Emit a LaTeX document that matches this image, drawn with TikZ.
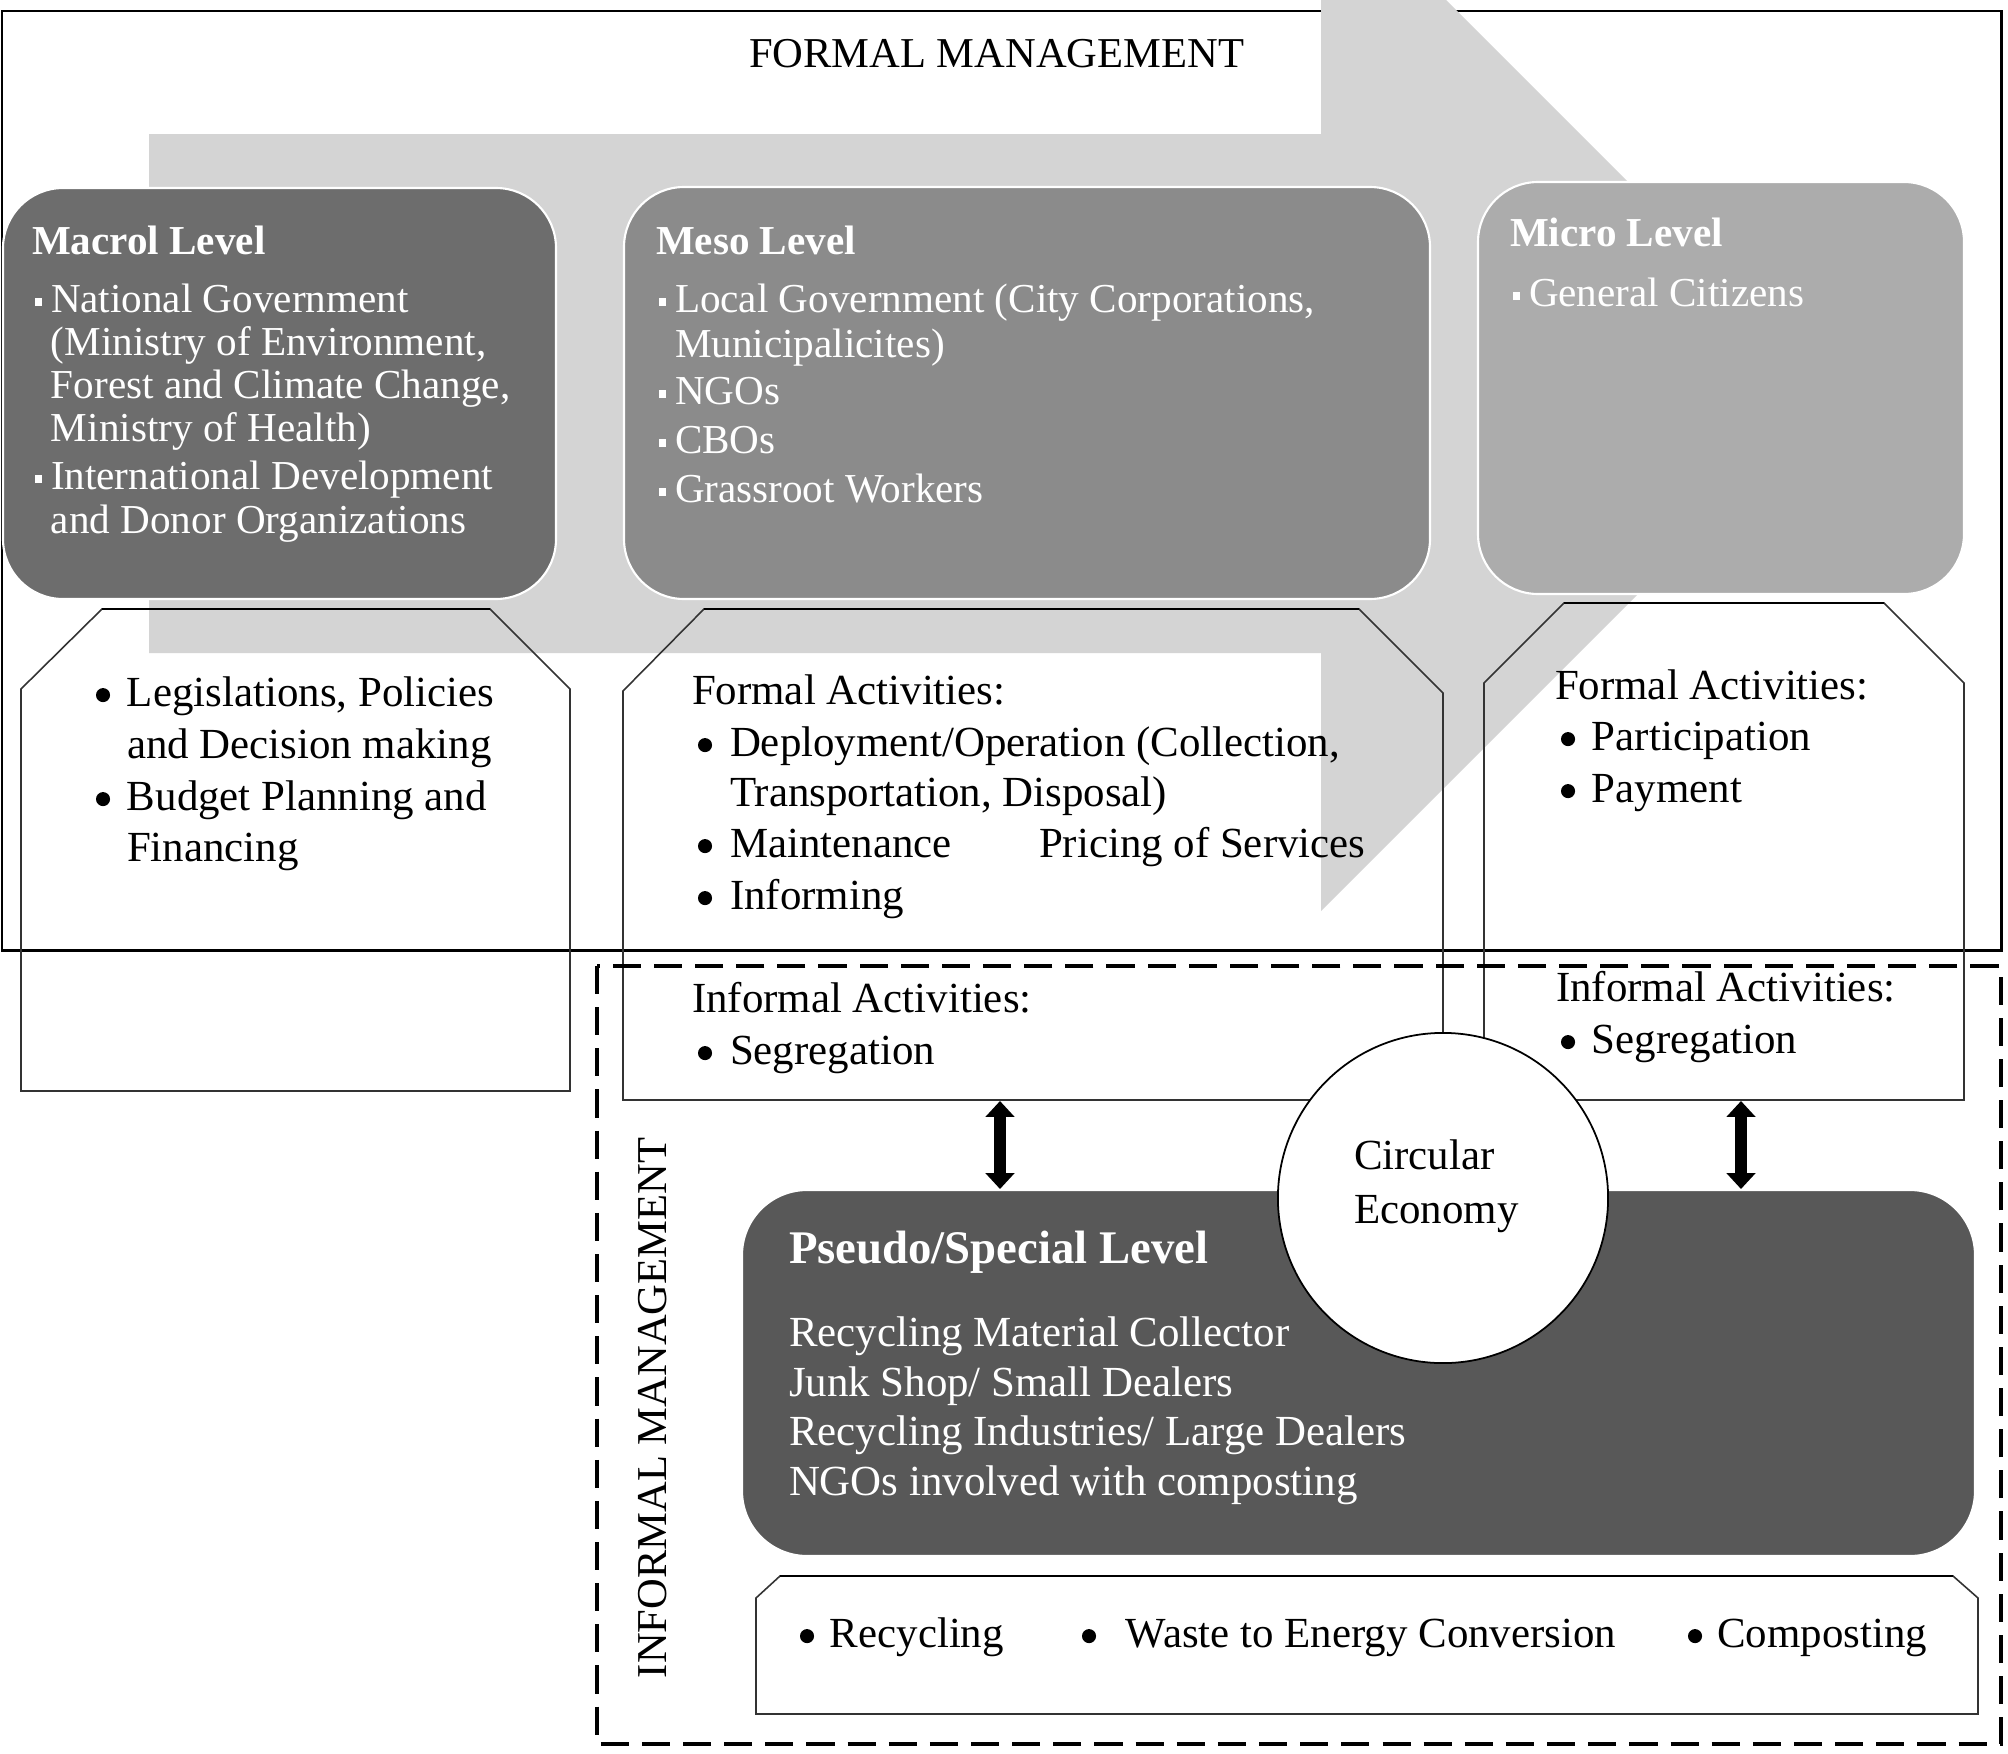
\documentclass[tikz,border=0pt]{standalone}
\usepackage{fontspec}
\setmainfont{Liberation Serif}
\usetikzlibrary{arrows.meta}
\definecolor{arrowgray}{HTML}{D4D4D4}
\definecolor{macrogray}{HTML}{6D6D6D}
\definecolor{mesogray}{HTML}{8B8B8B}
\definecolor{microgray}{HTML}{ACACAC}
\definecolor{pseudogray}{HTML}{585858}
\newcommand\sqb{\rule[1.7pt]{2pt}{2.4pt}\hspace{2.55pt}}
\newcommand\bigdot{\tikz[baseline=0pt]\fill (0pt,3.1pt) ++(2pt,0pt) circle[radius=2pt];}
\newcommand\rbul[1]{\makebox[#1][l]{\bigdot}}
\tikzset{
  wt/.style={inner sep=0pt, outer sep=0pt, anchor=base west, text=white, font=\fontsize{11.7}{14}\selectfont},
  wh/.style={inner sep=0pt, outer sep=0pt, anchor=base west, text=white, font=\bfseries\fontsize{11.7}{14}\selectfont},
  bt/.style={inner sep=0pt, outer sep=0pt, anchor=base west, text=black, font=\fontsize{12.2}{14}\selectfont},
  pt/.style={inner sep=0pt, outer sep=0pt, anchor=base west, text=white, font=\fontsize{12.2}{14}\selectfont},
  ph/.style={inner sep=0pt, outer sep=0pt, anchor=base west, text=white, font=\bfseries\fontsize{13.3}{15}\selectfont},
  lvl/.style={draw=white, line width=0.6pt, rounded corners=0.6cm},
  actbox/.style={draw=black!80, line width=0.45pt},
  dbl/.style={line width=3.3pt, {Triangle[width=8pt,length=4.5pt]}-{Triangle[width=8pt,length=4.5pt]}, shorten <=0pt, shorten >=0pt},
}
\begin{document}
\begin{tikzpicture}[x=0.01cm,y=-0.01cm]
\useasboundingbox (0,0) rectangle (2008,1754);
\fill[white] (0,0) rectangle (2008,1754);
% formal management frame
\draw[line width=0.85pt] (2,11) rectangle (2001,950);
% big arrow
\begin{scope}
\clip (0,0) rectangle (2008,1754);
\fill[arrowgray] (149,134) -- (1321,134) -- (1321,-125) -- (1839,393) -- (1321,911) -- (1321,653) -- (149,653) -- cycle;
\end{scope}
% level boxes
\path[lvl, fill=macrogray] (3,188) rectangle (556,599);
\path[lvl, fill=mesogray] (624,187) rectangle (1430,599);
\path[lvl, fill=microgray] (1478,182) rectangle (1964,594);
% activity boxes
\draw[actbox] (21,689) -- (102,609) -- (490,609) -- (570,689) -- (570,1091) -- (21,1091) -- cycle;
\draw[actbox] (623,691) -- (704,609) -- (1359,609) -- (1443,693) -- (1443,1100) -- (623,1100) -- cycle;
\draw[actbox] (1484,683) -- (1564,603) -- (1884,603) -- (1964,683) -- (1964,1100) -- (1484,1100) -- cycle;
\draw[line width=0.7pt] (102,609) -- (490,609);
\draw[line width=0.7pt] (704,609) -- (1359,609);
\draw[line width=0.7pt] (1564,603) -- (1884,603);
% informal management frame
\draw[line width=1.1pt, dash pattern=on 8pt off 3.7pt] (597,966) rectangle (2001,1744);
% pseudo level box
\path[draw=white, line width=0.6pt, rounded corners=0.65cm, fill=pseudogray] (742,1190) rectangle (1975,1556);
% bottom activity box
\draw[actbox] (756,1598) -- (780,1576) -- (1953,1576) -- (1978,1598) -- (1978,1714) -- (756,1714) -- cycle;
\draw[line width=0.7pt] (780,1576) -- (1953,1576);
% circular economy
\node[circle, draw=black, line width=0.5pt, fill=white, minimum size=3.3cm, inner sep=0pt] (ce) at (1443,1198) {};
\node[bt] (ce1) at (1354,1169) {Circular};
\node[bt] (ce2) at (1354,1223) {Economy};
% double arrows
\coordinate (mesoB) at (1000,1101);
\coordinate (pseL) at (1000,1189);
\coordinate (micB) at (1741,1101);
\coordinate (pseR) at (1741,1189);
\draw[dbl] (mesoB) -- (pseL);
\draw[dbl] (micB) -- (pseR);
% titles
\node[bt, font=\fontsize{12.1}{14}\selectfont] (fm) at (749,67) {FORMAL MANAGEMENT};
\node[inner sep=0pt, rotate=90, font=\fontsize{12.1}{14}\selectfont] (im) at (653,1408) {INFORMAL MANAGEMENT};
% macro level
\node[wh] (mah) at (32,254) {Macrol Level};
\node[wt] (ma1) at (35,312) {\sqb National Government};
\node[wt] (ma2) at (51,355) {(Ministry of Environment,};
\node[wt] (ma3) at (51,398) {Forest and Climate Change,};
\node[wt] (ma4) at (51,441) {Ministry of Health)};
\node[wt] (ma5) at (35,489) {\sqb International Development};
\node[wt] (ma6) at (51,533) {and Donor Organizations};
% meso level
\node[wh] (meh) at (656,254) {Meso Level};
\node[wt] (me1) at (659,312) {\sqb Local Government (City Corporations,};
\node[wt] (me2) at (675,357) {Municipalicites)};
\node[wt] (me3) at (659,404) {\sqb NGOs};
\node[wt] (me4) at (659,453) {\sqb CBOs};
\node[wt] (me5) at (659,502) {\sqb Grassroot Workers};
% micro level
\node[wh] (mih) at (1510,246) {Micro Level};
\node[wt] (mi1) at (1513,306) {\sqb General Citizens};
% macro activities
\node[bt] (a1) at (96,706) {\rbul{8.8pt}Legislations, Policies};
\node[bt] (a2) at (127,758) {and Decision making};
\node[bt] (a3) at (96,810) {\rbul{8.8pt}Budget Planning and};
\node[bt] (a4) at (127,861) {Financing};
% meso activities
\node[bt] (b0) at (692,704) {Formal Activities:};
\node[bt] (b1) at (698,756) {\rbul{9.1pt}Deployment/Operation (Collection,};
\node[bt] (b2) at (730,806) {Transportation, Disposal)};
\node[bt] (b3) at (698,857) {\rbul{9.1pt}Maintenance};
\node[bt] (b4) at (1039,857) {Pricing of Services};
\node[bt] (b5) at (698,909) {\rbul{9.1pt}Informing};
\node[bt] (b6) at (692,1012) {Informal Activities:};
\node[bt] (b7) at (698,1064) {\rbul{9.1pt}Segregation};
% micro activities
\node[bt] (c0) at (1555,699) {Formal Activities:};
\node[bt] (c1) at (1561,750) {\rbul{8.8pt}Participation};
\node[bt] (c2) at (1561,802) {\rbul{8.8pt}Payment};
\node[bt] (c3) at (1556,1001) {Informal Activities:};
\node[bt] (c4) at (1561,1053) {\rbul{8.8pt}Segregation};
% pseudo level
\node[ph] (ps0) at (789,1263) {Pseudo/Special Level};
\node[pt] (ps1) at (789,1346) {Recycling Material Collector};
\node[pt] (ps2) at (789,1396) {Junk Shop/ Small Dealers};
\node[pt] (ps3) at (789,1445) {Recycling Industries/ Large Dealers};
\node[pt] (ps4) at (789,1495) {NGOs involved with composting};
% bottom activities
\node[bt] (d1) at (800,1647) {\rbul{8.5pt}Recycling};
\node[bt] (d2) at (1082,1647) {\rbul{12.5pt}Waste to Energy Conversion};
\node[bt] (d3) at (1688,1647) {\rbul{8.3pt}Composting};
\end{tikzpicture}
\end{document}
